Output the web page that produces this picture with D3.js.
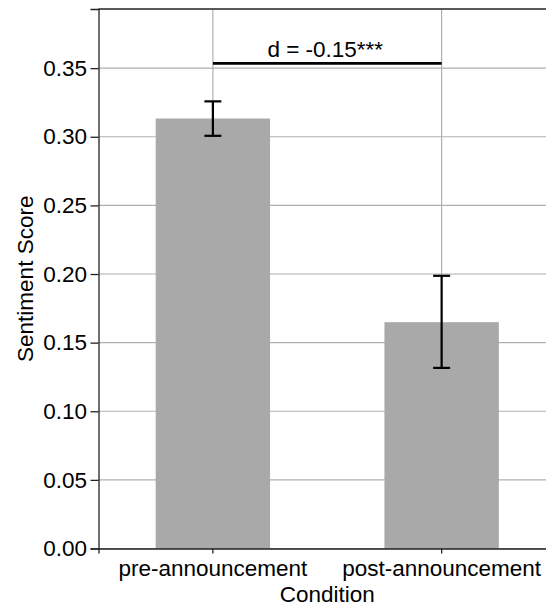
<!DOCTYPE html>
<html>
<head>
<meta charset="utf-8">
<title>Sentiment score by condition</title>
<style>
  body { margin: 0; background: #fff; }
  svg { display: block; font-family: "Liberation Sans", Arial, sans-serif; }
</style>
</head>
<body>
<svg id="chart" width="546" height="607"></svg>
<script src="https://d3js.org/d3.v7.min.js"></script>
<script>
// data
const conditions = ["pre-announcement", "post-announcement"];
const scores = [0.3133, 0.1649];
const errLow = [0.3007, 0.1316];
const errHigh = [0.3258, 0.1987];
const yTicks = [0.00, 0.05, 0.10, 0.15, 0.20, 0.25, 0.30, 0.35];
const effectLabel = "d = -0.15***";
const effectY = 0.3535;

const svg = d3.select("#chart");
const fs = 22.5;
// plot area runs past the right edge of the picture, like the original crop
const pLeft = 98.5, pRight = 556, pTop = 9, pBottom = 548.5;

const x = d3.scaleBand().domain(conditions).range([pLeft, pRight]).paddingInner(0.5).paddingOuter(0.25);
const y = d3.scaleLinear().domain([0, 0.3931]).range([pBottom, pTop]);

// grid
svg.append("g").selectAll("line").data(yTicks).join("line")
    .attr("x1", pLeft).attr("x2", pRight)
    .attr("y1", d => y(d)).attr("y2", d => y(d))
    .attr("stroke", "#b0b0b0").attr("stroke-width", 1.2);
svg.append("g").selectAll("line").data(conditions).join("line")
    .attr("x1", d => x(d) + x.bandwidth() / 2).attr("x2", d => x(d) + x.bandwidth() / 2)
    .attr("y1", pTop).attr("y2", pBottom)
    .attr("stroke", "#b0b0b0").attr("stroke-width", 1.2);

// bars
svg.append("g").selectAll("rect").data(conditions).join("rect")
    .attr("x", d => x(d)).attr("width", x.bandwidth())
    .attr("y", (d, i) => y(scores[i]))
    .attr("height", (d, i) => y(0) - y(scores[i]))
    .attr("fill", "#a9a9a9");

// error bars
const eb = svg.append("g").attr("stroke", "#000").attr("stroke-width", 2.2);
conditions.forEach((c, i) => {
    const cx = x(c) + x.bandwidth() / 2;
    eb.append("line").attr("x1", cx).attr("x2", cx).attr("y1", y(errLow[i])).attr("y2", y(errHigh[i]));
    eb.append("line").attr("x1", cx - 8.5).attr("x2", cx + 8.5).attr("y1", y(errLow[i])).attr("y2", y(errLow[i]));
    eb.append("line").attr("x1", cx - 8.5).attr("x2", cx + 8.5).attr("y1", y(errHigh[i])).attr("y2", y(errHigh[i]));
});

// effect-size bracket
const x0 = x(conditions[0]) + x.bandwidth() / 2, x1 = x(conditions[1]) + x.bandwidth() / 2;
svg.append("line").attr("x1", x0).attr("x2", x1)
    .attr("y1", y(effectY)).attr("y2", y(effectY))
    .attr("stroke", "#000").attr("stroke-width", 2.6);
svg.append("text").attr("x", (x0 + x1) / 2 - 2).attr("y", y(effectY) - 6.5)
    .attr("text-anchor", "middle").attr("font-size", fs).attr("fill", "#000")
    .text(effectLabel);

// axes
const yAxis = svg.append("g").attr("transform", `translate(${pLeft},0)`)
    .call(d3.axisLeft(y).tickValues(yTicks).tickFormat(d3.format(".2f")).tickSize(8).tickPadding(3.5));
const xAxis = svg.append("g").attr("transform", `translate(0,${pBottom})`)
    .call(d3.axisBottom(x).tickSize(5).tickPadding(7));
[yAxis, xAxis].forEach(g => {
    g.attr("font-family", null);
    g.selectAll("text").attr("font-size", fs).attr("fill", "#000");
    g.selectAll("line").attr("stroke", "#222").attr("stroke-width", 1.3);
    g.select(".domain").attr("stroke", "#222").attr("stroke-width", 1.3);
});
svg.append("line").attr("x1", pLeft).attr("x2", pRight).attr("y1", pTop).attr("y2", pTop)
    .attr("stroke", "#222").attr("stroke-width", 1.3);

// axis titles
svg.append("text").attr("x", (pLeft + pRight) / 2).attr("y", 602)
    .attr("text-anchor", "middle").attr("font-size", fs).text("Condition");
svg.append("text").attr("transform", `translate(33,${(pTop + pBottom) / 2}) rotate(-90)`)
    .attr("text-anchor", "middle").attr("font-size", fs).text("Sentiment Score");
</script>
</body>
</html>
